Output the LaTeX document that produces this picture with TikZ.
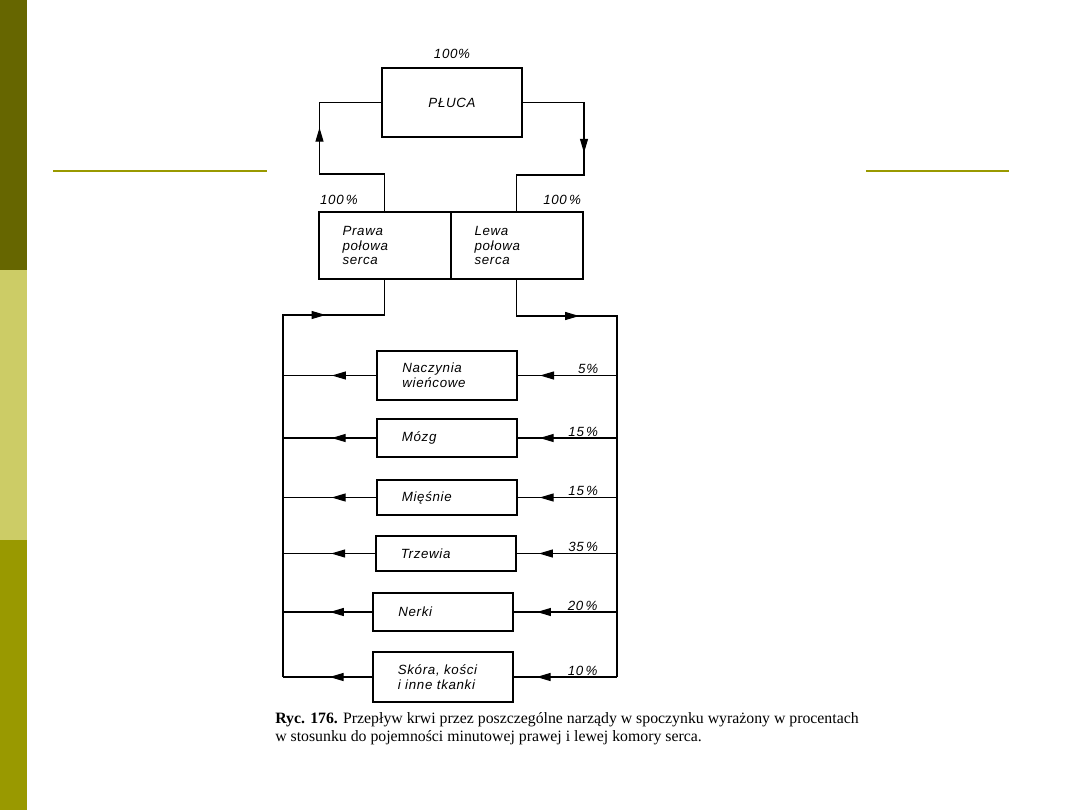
\documentclass[tikz,border=0pt]{standalone}
\usepackage{fontspec}
\setmainfont{Liberation Serif}
\newfontfamily\diagfont[LetterSpace=5]{Liberation Sans}
\usetikzlibrary{arrows.meta, positioning, decorations.markings}

\definecolor{barDark}{HTML}{666600}
\definecolor{barLight}{HTML}{CCCC66}
\definecolor{barOlive}{HTML}{999900}

\begin{document}
\begin{tikzpicture}[
    x=0.75pt, y=-0.75pt,
    diag/.style={font=\diagfont\itshape\fontsize{10}{11}\selectfont},
    organ/.style={rectangle, draw, line width=1.5pt, outer sep=0pt, diag, text width=67pt, inner xsep=19pt, align=left},
    heart/.style={rectangle, draw, line width=1.5pt, outer sep=0pt, diag, text width=63pt, inner xsep=18pt, minimum height=50.25pt, align=left},
    pct/.style={diag, inner sep=1pt},
    flow/.style={line width=0.8pt, postaction={decorate},
        decoration={markings, mark=at position #1 with {\arrow{Triangle[length=10.5pt, width=6pt]}}}}
]
\useasboundingbox (0,0) rectangle (1080,810);

\fill[barDark] (0,0) rectangle (27,270);
\fill[barLight] (0,270) rectangle (27,540);
\fill[barOlive] (0,540) rectangle (27,810);
\draw[barOlive, line width=1.5pt] (53,171) -- (267,171);
\draw[barOlive, line width=1.5pt] (866,171) -- (1009,171);

\node[rectangle, draw, line width=1.5pt, outer sep=0pt, diag, minimum width=105pt, minimum height=51.75pt] (pluca) at (452,102.5) {PŁUCA};
\node[pct, above=6pt of pluca] (plucaPct) {100\%};

\node[heart] (prawa) at (384.5,245.5) {Prawa\\połowa\\serca};
\node[heart, right=0pt of prawa] (lewa) {Lewa\\połowa\\serca};
\node[pct, anchor=south west] (prawaPct) at ([yshift=4pt]prawa.north west) {100\,\%};
\node[pct, anchor=south east] (lewaPct) at ([yshift=4pt]lewa.north east) {100\,\%};

\node[organ, minimum height=36.75pt] (naczynia) at (447,375.5) {Naczynia\\wieńcowe};
\node[organ, minimum height=28.5pt] (mozg) at (446.5,438) {Mózg};
\node[organ, minimum height=26.25pt] (miesnie) at (446.5,497.5) {Mięśnie};
\node[organ, minimum height=26.25pt] (trzewia) at (445.5,553.5) {Trzewia};
\node[organ, minimum height=28.5pt] (nerki) at (443,612) {Nerki};
\node[organ, minimum height=37.5pt] (skora) at (442.5,677) {Skóra, kości\\i inne tkanki};

\coordinate (veinTop) at (283,315);
\coordinate (veinEnd) at (283,677);
\coordinate (arteryTop) at (617,316);
\coordinate (arteryEnd) at (617,677);

\draw[flow=0.63] (prawa.north) -- ++(0,-38) -- ++(-65,0) |- (pluca.west);
\draw[flow=0.47] (pluca.east) -- ++(62,0) -- ++(0,72.5) -| (lewa.north);
\draw[flow=0.81] (veinEnd) -- (veinTop) -| (prawa.south);
\draw[flow=0.2] (lewa.south) |- (arteryTop) -- (arteryEnd);

\foreach \organ/\share in {naczynia/5\%, mozg/15\,\%, miesnie/15\,\%, trzewia/35\,\%, nerki/20\,\%, skora/10\,\%} {
  \draw[flow=0.77] (\organ.east -| arteryTop) -- (\organ.east)
    node[pct, pos=0.17, anchor=south east] (\organ Pct) {\share};
  \draw[flow=0.48] (\organ.west) -- (\organ.west -| veinTop);
}

\node[anchor=north west, align=left, inner sep=0pt, font=\fontsize{11.85}{13.5}\selectfont] (caption) at (275,712)
  {\textbf{Ryc. 176.} Przepływ krwi przez poszczególne narządy w spoczynku wyrażony w procentach\\
   w stosunku do pojemności minutowej prawej i lewej komory serca.};
\end{tikzpicture}
\end{document}
